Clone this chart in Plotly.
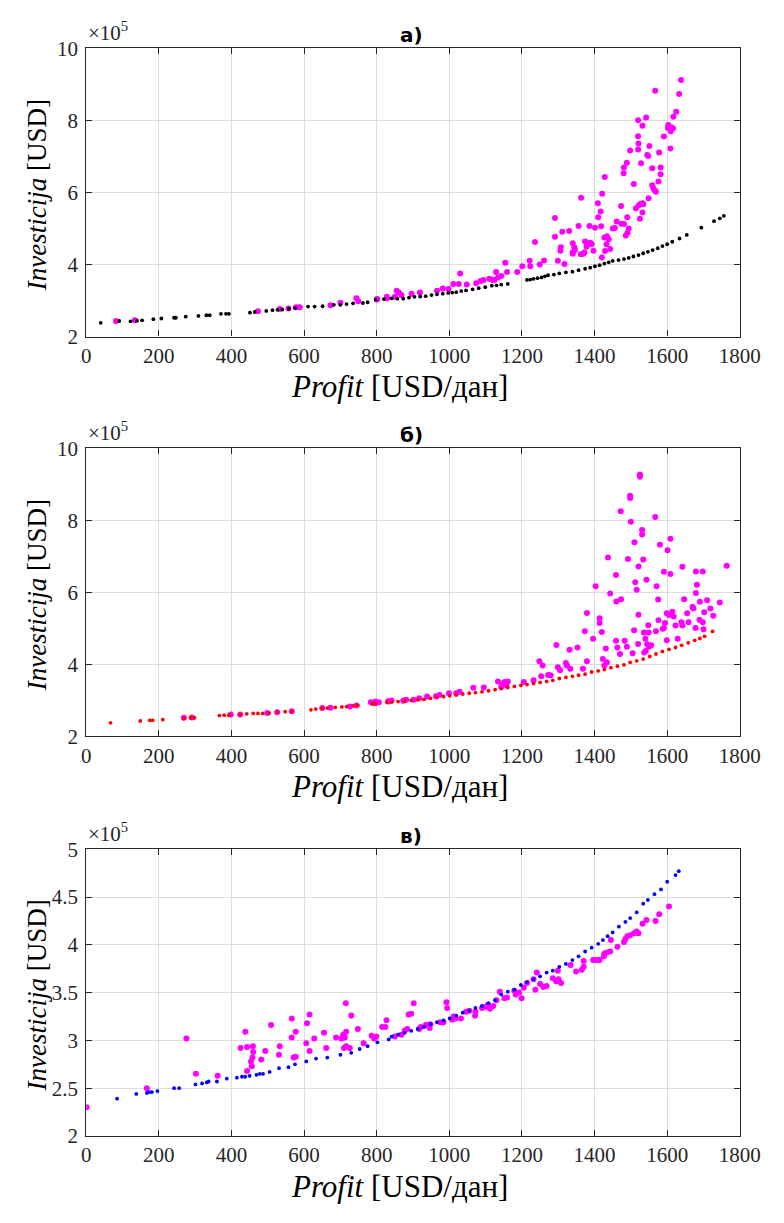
import plotly.graph_objects as go

# ---------------- DATA (Investicija in units of 1e5 USD) ----------------
# Panel a)
a_front_x = [40, 91, 122, 140, 154, 185, 207, 242, 247, 274, 309, 331, 340, 371, 385, 393,
             451, 464, 496, 513, 527, 540, 558, 575, 611, 629, 651, 682, 700, 717, 735, 762,
             775, 797, 820, 841, 857, 873, 889, 904, 920, 935, 951, 966, 982, 997, 1008,
             1019, 1033, 1046, 1064, 1081, 1099, 1117, 1130, 1143, 1161,
             1214, 1223, 1232, 1243, 1254, 1263, 1272, 1288, 1303, 1321, 1339, 1356, 1374,
             1388, 1401, 1414, 1427, 1439, 1450, 1466, 1481, 1494, 1507, 1521, 1534, 1547,
             1560, 1574, 1587, 1600, 1614, 1634, 1654, 1694, 1729, 1745, 1756]
a_front_y = [2.38, 2.43, 2.42, 2.44, 2.45, 2.48, 2.50, 2.52, 2.52, 2.55, 2.57, 2.59, 2.59, 2.63, 2.63, 2.63,
             2.66, 2.68, 2.71, 2.73, 2.74, 2.75, 2.77, 2.79, 2.83, 2.83, 2.84, 2.88, 2.88, 2.90, 2.92, 2.93,
             2.95, 3.02, 3.04, 3.06, 3.05, 3.05, 3.08, 3.10, 3.11, 3.12, 3.15, 3.17, 3.19, 3.21, 3.22,
             3.23, 3.26, 3.28, 3.31, 3.34, 3.37, 3.41, 3.42, 3.44, 3.46,
             3.57, 3.58, 3.60, 3.62, 3.64, 3.67, 3.70, 3.72, 3.75, 3.78, 3.80, 3.84, 3.88,
             3.91, 3.95, 3.98, 4.02, 4.06, 4.10, 4.12, 4.15, 4.18, 4.22, 4.26, 4.31, 4.35,
             4.40, 4.45, 4.51, 4.56, 4.63, 4.72, 4.82, 5.02, 5.20, 5.28, 5.35]
a_pop_x = [82, 134, 473, 533, 557, 578, 588, 673, 700, 744, 749, 801, 828,
           1638, 1567, 1633, 1625, 1617, 1520, 1542, 1532, 1603, 1610, 1616, 1602, 1610, 1591,
           1520, 1521, 1551, 1498, 1520, 1545, 1548, 1578, 1609, 1489, 1481, 1480, 1528, 1559,
           1582, 1582, 1508, 1576, 1559, 1562, 1566, 1569, 1428, 1421, 1409, 1417, 1410, 1549,
           1532, 1526, 1522, 1534, 1514, 1532, 1525, 1363, 1291, 1473, 1490, 1330, 1311, 1356,
           1386, 1401, 1418, 1461, 1474, 1481, 1494, 1491, 1486, 1450, 1456, 1291, 1236, 1307,
           1306, 1340, 1344, 1340, 1346, 1340, 1374, 1379, 1388, 1392, 1427, 1434, 1439, 1433,
           1443, 1429, 1362, 1369, 1372, 1378, 1397, 1420, 1299, 1317, 1201, 1221, 1223, 1249,
           1261, 1187, 1154, 1159, 1129, 1143, 1124, 1134, 1110, 1119, 1094, 1086, 1074, 1048,
           1030, 1026, 1011, 998, 982, 966, 919, 896, 861, 868, 855, 850, 828, 801]
a_pop_y = [2.43, 2.45, 2.70, 2.76, 2.78, 2.81, 2.81, 2.87, 2.94, 3.06, 2.98, 3.03, 3.06,
           9.12, 8.82, 8.73, 8.24, 8.10, 8.00, 8.08, 7.85, 7.87, 7.81, 7.78, 7.79, 7.70, 7.55,
           7.56, 7.36, 7.29, 7.16, 7.19, 7.04, 7.01, 7.11, 7.22, 6.82, 6.69, 6.53, 6.81, 6.67,
           6.69, 6.50, 6.23, 6.30, 6.20, 6.11, 6.05, 6.02, 6.43, 5.96, 5.70, 5.47, 5.31, 5.84,
           5.70, 5.68, 5.64, 5.67, 5.56, 5.44, 5.27, 5.85, 5.29, 5.62, 5.31, 4.93, 4.91, 5.07,
           5.07, 5.02, 5.06, 5.19, 5.13, 5.12, 5.00, 4.88, 4.80, 5.00, 5.01, 4.77, 4.62, 4.48,
           4.38, 4.59, 4.48, 4.34, 4.40, 4.30, 4.64, 4.52, 4.60, 4.57, 4.75, 4.78, 4.70, 4.56,
           4.43, 4.37, 4.28, 4.30, 4.33, 4.49, 4.38, 4.19, 4.10, 4.01, 3.95, 4.10, 3.95, 4.00,
           4.11, 3.79, 4.05, 3.79, 3.79, 3.68, 3.57, 3.64, 3.60, 3.57, 3.57, 3.54, 3.48, 3.44,
           3.75, 3.46, 3.46, 3.32, 3.33, 3.27, 3.22, 3.19, 3.22, 3.15, 3.27, 3.10, 3.10, 3.04]

# Panel б)
b_front_x = [67, 149, 175, 183, 211, 269, 287, 298, 367, 380, 393, 424, 442, 460, 473, 486,
             504, 526, 548, 566, 619, 632, 650, 664, 686, 704, 717, 735, 748, 788, 797, 828,
             841, 859, 877, 895, 913, 930, 948, 966, 984, 1001, 1019, 1037, 1055, 1072, 1090,
             1108, 1126, 1143, 1161, 1179, 1197, 1214, 1232, 1250, 1268, 1285, 1303, 1321,
             1339, 1356, 1374, 1392, 1410, 1427, 1445, 1463, 1481, 1498, 1516, 1534, 1552,
             1569, 1587, 1605, 1623, 1640, 1658, 1676, 1690, 1703, 1725]
b_front_y = [2.38, 2.43, 2.45, 2.45, 2.47, 2.50, 2.52, 2.52, 2.58, 2.59, 2.59, 2.61, 2.63, 2.64, 2.64, 2.64,
             2.65, 2.68, 2.69, 2.70, 2.74, 2.76, 2.78, 2.79, 2.81, 2.82, 2.83, 2.85, 2.86, 2.90, 2.92, 2.95,
             2.96, 2.97, 2.98, 3.00, 3.02, 3.03, 3.06, 3.08, 3.11, 3.13, 3.15, 3.18, 3.20, 3.22, 3.24,
             3.27, 3.30, 3.33, 3.36, 3.39, 3.42, 3.44, 3.47, 3.50, 3.53, 3.56, 3.61, 3.64,
             3.67, 3.70, 3.73, 3.79, 3.82, 3.86, 3.91, 3.95, 3.99, 4.06, 4.10, 4.15, 4.22,
             4.29, 4.36, 4.42, 4.47, 4.53, 4.60, 4.67, 4.72, 4.78, 4.92]
b_pop_x = [269, 291, 398, 424, 499, 526, 566, 650, 673, 726, 744, 784, 797, 806, 832,
           1525, 1525, 1498, 1498, 1472, 1567, 1500, 1531, 1531, 1580, 1609, 1510, 1601, 1437,
           1492, 1534, 1521, 1642, 1591, 1609, 1679, 1698, 1764, 1459, 1512, 1516, 1543, 1403,
           1571, 1443, 1473, 1460, 1575, 1682, 1679, 1647, 1690, 1710, 1745, 1379, 1414, 1414,
           1521, 1599, 1605, 1614, 1618, 1655, 1670, 1672, 1702, 1719, 1727, 1576, 1594, 1591,
           1623, 1642, 1639, 1659, 1678, 1689, 1698, 1700, 1373, 1396, 1420, 1509, 1536, 1549,
           1548, 1569, 1588, 1520, 1540, 1545, 1550, 1556, 1541, 1537, 1431, 1459, 1463, 1483,
           1489, 1470, 1505, 1599, 1629, 1295, 1331, 1353, 1248, 1257, 1299, 1305, 1321, 1324,
           1333, 1368, 1379, 1423, 1427, 1434, 1253, 1272, 1279, 1232, 1205, 1152, 1157, 1143,
           1134, 1148, 1161, 1095, 1066, 1028, 1019, 999, 973, 963, 939, 917, 902, 881, 873,
           841, 833, 797]
b_pop_y = [2.52, 2.53, 2.61, 2.61, 2.65, 2.67, 2.70, 2.79, 2.80, 2.83, 2.86, 2.95, 2.97, 2.95, 2.98,
           9.27, 9.21, 8.68, 8.62, 8.25, 8.09, 7.96, 7.73, 7.61, 7.32, 7.49, 7.39, 7.17, 6.97,
           6.93, 6.91, 6.72, 6.71, 6.57, 6.51, 6.58, 6.58, 6.74, 6.48, 6.28, 6.07, 6.35, 6.17,
           6.17, 5.97, 5.81, 5.75, 5.80, 6.21, 5.98, 5.81, 5.74, 5.78, 5.72, 5.43, 5.28, 5.15,
           5.38, 5.42, 5.37, 5.46, 5.33, 5.42, 5.60, 5.55, 5.45, 5.55, 5.35, 5.23, 5.15, 5.01,
           5.08, 5.08, 5.17, 5.17, 5.01, 5.24, 5.17, 4.98, 4.92, 4.71, 4.90, 4.95, 4.89, 4.89,
           5.09, 4.92, 4.99, 4.57, 4.71, 4.56, 4.49, 4.53, 4.37, 4.33, 4.44, 4.66, 4.47, 4.66,
           4.49, 4.29, 4.31, 4.67, 4.71, 4.54, 4.41, 4.47, 4.09, 3.97, 3.92, 3.84, 4.04, 3.97,
           3.88, 3.88, 4.09, 4.15, 3.97, 4.06, 3.67, 3.71, 3.70, 3.56, 3.51, 3.51, 3.42, 3.38,
           3.53, 3.47, 3.53, 3.36, 3.35, 3.24, 3.20, 3.20, 3.15, 3.12, 3.11, 3.06, 3.02, 3.02, 2.99,
           3.00, 2.97, 2.92]

# Panel в)
c_front_x = [85, 138, 167, 174, 181, 196, 242, 256, 301, 319, 332, 337, 360, 387, 415, 429,
             438, 450, 469, 478, 487, 505, 531, 557, 575, 606, 633, 664, 700, 730, 753, 775,
             802, 833, 841, 859, 877, 895, 913, 930, 948, 966, 984, 1001, 1019, 1037, 1055,
             1072, 1090, 1108, 1126, 1143, 1161, 1179, 1197, 1214, 1232, 1250, 1268, 1285,
             1303, 1321, 1339, 1356, 1374, 1392, 1410, 1423, 1436, 1450, 1467, 1485, 1498,
             1516, 1534, 1547, 1565, 1583, 1600, 1623, 1632]
c_front_y = [2.39, 2.44, 2.45, 2.46, 2.46, 2.47, 2.50, 2.50, 2.54, 2.55, 2.56, 2.57, 2.57, 2.60, 2.61, 2.62,
             2.62, 2.63, 2.64, 2.65, 2.65, 2.67, 2.71, 2.72, 2.75, 2.78, 2.81, 2.82, 2.85, 2.87, 2.91, 2.94,
             2.98, 3.01, 3.04, 3.06, 3.08, 3.10, 3.12, 3.14, 3.17, 3.19, 3.21, 3.23, 3.26, 3.29, 3.31,
             3.34, 3.36, 3.39, 3.42, 3.48, 3.51, 3.53, 3.58, 3.61, 3.64, 3.67, 3.71, 3.73,
             3.77, 3.80, 3.84, 3.88, 3.93, 3.97, 4.01, 4.05, 4.09, 4.13, 4.19, 4.24, 4.28,
             4.34, 4.43, 4.47, 4.53, 4.58, 4.66, 4.73, 4.77]
c_pop_x = [1, 167, 276, 302, 362, 425, 438, 443, 454, 456, 459, 460, 443, 458, 482, 493, 509,
           531, 533, 566, 566, 577, 571, 577, 608, 615, 606, 615, 628, 655, 661, 688, 703, 708,
           712, 716, 710, 716, 715, 730, 748, 764, 786, 799, 815, 824, 827, 726,
           793, 850, 868, 877, 884, 888, 895, 902, 917, 921, 935, 939, 946, 948, 975, 984, 992,
           994, 1008, 1012, 1017, 1032, 1046, 1055, 1071, 1072, 1090, 1099, 1106, 1112, 1121,
           1130, 1139, 1152, 1159, 1179, 1183, 1192, 1199, 1205, 1214, 1232, 1237, 1241, 1250,
           1259, 1268, 1285, 1294, 1299, 1301, 1308, 1334, 1349, 1365, 1370, 1370, 1396, 1405,
           1414, 1426, 1427, 1434, 1443, 1445, 1463, 1481, 1485, 1490, 1498, 1509, 1516, 1521,
           1532, 1543, 1568, 1578, 1605]
c_pop_y = [2.30, 2.50, 3.02, 2.65, 2.63, 2.92, 3.09, 2.93, 2.78, 2.73, 2.94, 2.88, 2.68, 2.82, 2.80, 2.89, 3.16,
           2.85, 2.94, 3.23, 3.03, 3.09, 2.82, 2.83, 3.18, 3.27, 2.97, 2.89, 3.02, 3.08, 2.92, 3.03, 3.02, 3.06,
           3.03, 3.09, 2.92, 2.94, 3.39, 3.26, 3.12, 2.97, 3.05, 3.04, 3.14, 3.14, 3.21, 2.92,
           3.02, 3.04, 3.06, 3.10, 3.12, 3.27, 3.28, 3.39, 3.12, 3.14, 3.16, 3.16, 3.13, 3.17, 3.19, 3.19, 3.40,
           3.34, 3.22, 3.25, 3.23, 3.23, 3.30, 3.31, 3.26, 3.30, 3.34, 3.35, 3.37, 3.33, 3.36,
           3.42, 3.51, 3.44, 3.45, 3.52, 3.48, 3.50, 3.44, 3.55, 3.60, 3.64, 3.53, 3.71, 3.59,
           3.56, 3.57, 3.65, 3.62, 3.73, 3.64, 3.60, 3.79, 3.72, 3.74, 3.77, 3.83, 3.84, 3.84,
           3.84, 3.88, 3.91, 3.92, 3.93, 4.05, 3.98, 4.03, 4.06, 4.09, 4.10, 4.12, 4.14, 4.12,
           4.22, 4.26, 4.25, 4.32, 4.40]

x_ticks = [0, 200, 400, 600, 800, 1000, 1200, 1400, 1600, 1800]
y_ticks_ab = [2, 4, 6, 8, 10]
y_ticks_c = [2, 2.5, 3, 3.5, 4, 4.5, 5]
y_ticktext_c = ["2", "2.5", "3", "3.5", "4", "4.5", "5"]
panel_titles = ["a)", "б)", "в)"]
x_title = "<i>Profit</i> [USD/дан]"
y_title = "<i>Investicija</i> [USD]"
exp_label = "×10<sup>5</sup>"

# ---------------- LAYOUT ----------------
W, H = 784, 1223
def px(x): return x / W
def py(y): return 1 - y / H

L, R = 84, 760
panels = [  # top, bottom in pixels
    (37, 331),
    (445, 739),
    (854, 1146.5),
]
MAG = "#FF00FF"
front_colors = ["#000000", "#FF0000", "#0000FF"]
fronts = [(a_front_x, a_front_y), (b_front_x, b_front_y), (c_front_x, c_front_y)]
pops = [(a_pop_x, a_pop_y), (b_pop_x, b_pop_y), (c_pop_x, c_pop_y)]

fig = go.Figure()
SERIF = "Liberation Serif, Times New Roman, serif"
TXT = "#262626"

for i in range(3):
    xa = "x" if i == 0 else f"x{i+1}"
    ya = "y" if i == 0 else f"y{i+1}"
    fig.add_trace(go.Scatter(x=pops[i][0], y=pops[i][1], mode="markers",
                             marker=dict(color=MAG, size=6, line=dict(width=0)),
                             xaxis=xa, yaxis=ya, showlegend=False))
    fig.add_trace(go.Scatter(x=fronts[i][0], y=fronts[i][1], mode="markers",
                             marker=dict(color=front_colors[i], size=3.8, line=dict(width=0)),
                             xaxis=xa, yaxis=ya, showlegend=False))

axis_common = dict(showline=True, linecolor=TXT, linewidth=1.2, mirror="ticks",
                   ticks="inside", ticklen=6, tickcolor=TXT, tickwidth=1.2,
                   showgrid=True, gridcolor="#dcdcdc", gridwidth=1, zeroline=False,
                   tickfont=dict(family=SERIF, size=21, color=TXT))

layout = dict(width=W, height=H, margin=dict(l=0, r=0, t=0, b=0),
              paper_bgcolor="white", plot_bgcolor="white", showlegend=False)
annotations = []
for i, (top, bot) in enumerate(panels):
    xk = "xaxis" if i == 0 else f"xaxis{i+1}"
    yk = "yaxis" if i == 0 else f"yaxis{i+1}"
    ya = "y" if i == 0 else f"y{i+1}"
    xa = "x" if i == 0 else f"x{i+1}"
    layout[xk] = dict(axis_common, domain=[px(L), px(R)], range=[0, 1800],
                      tickvals=x_ticks, anchor=ya, ticklabelstandoff=0)
    if i < 2:
        yr, tv, tt = [2, 10], y_ticks_ab, [str(v) for v in y_ticks_ab]
    else:
        yr, tv, tt = [2, 5], y_ticks_c, y_ticktext_c
    layout[yk] = dict(axis_common, domain=[py(bot), py(top)], range=yr,
                      tickvals=tv, ticktext=tt, anchor=xa, ticklabelstandoff=3)
    # panel title
    annotations.append(dict(text=f"<b>{panel_titles[i]}</b>", x=px(420), y=py(top - 14),
                            xref="paper", yref="paper", xanchor="center", yanchor="middle",
                            showarrow=False, font=dict(family="DejaVu Sans, Verdana, sans-serif",
                                                       size=20, color="#000000")))
    # exponent label
    annotations.append(dict(text=exp_label, x=px(84), y=py(top - 1), xref="paper", yref="paper",
                            xanchor="left", yanchor="bottom", showarrow=False,
                            font=dict(family=SERIF, size=21, color=TXT)))
    # x title
    annotations.append(dict(text=x_title, x=px(408), y=py(bot + 51), xref="paper", yref="paper",
                            xanchor="center", yanchor="middle", showarrow=False,
                            font=dict(family=SERIF, size=31, color="#000000")))
    # y title
    annotations.append(dict(text=y_title, x=px(33), y=py((top + bot) / 2 + 3), xref="paper",
                            yref="paper", xanchor="center", yanchor="middle", textangle=-90,
                            showarrow=False, font=dict(family=SERIF, size=27, color="#000000")))

layout["annotations"] = annotations
fig.update_layout(**layout)
fig.write_html("out.html")
